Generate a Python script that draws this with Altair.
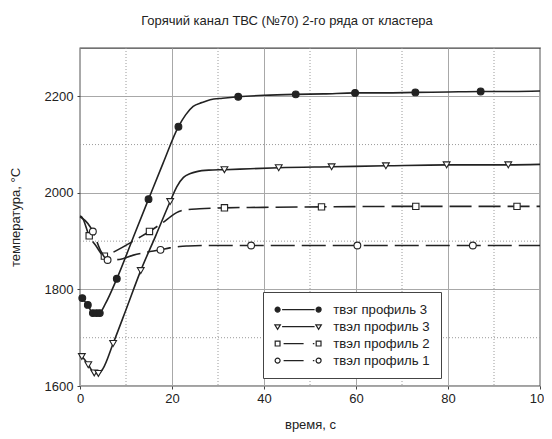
import altair as alt
import pandas as pd

FONT = "Liberation Sans"
INK = "#222222"

names = ["твэг профиль 3", "твэл профиль 3", "твэл профиль 2", "твэл профиль 1"]

# --- series A: твэг профиль 3 (filled circles, solid)
a_line_x = [0, 0.4, 1.7, 2.7, 3.6, 4.3, 5.5, 8.0, 12, 14.9, 18, 21.4, 23, 24.6, 26.5, 28.3, 31, 34.4, 40, 46.9, 53, 59.8, 66, 72.9, 80, 87.1, 94, 100]
a_line_y = [1785, 1781, 1768, 1752, 1751, 1752, 1770, 1822, 1918, 1987, 2060, 2137, 2162, 2179, 2187, 2193, 2196, 2199, 2202, 2204, 2205, 2207, 2207, 2208, 2209, 2210, 2210, 2211]
a_mark_x = [0.5, 1.7, 2.8, 3.6, 4.3, 8.0, 14.9, 21.4, 34.4, 46.9, 59.8, 72.9, 87.1]
a_mark_y = [1782, 1768, 1751, 1751, 1751, 1822, 1987, 2137, 2199, 2204, 2207, 2208, 2210]

# --- series B: твэл профиль 3 (open triangles, solid)
b_line_x = [0, 0.4, 1.8, 3.1, 4.0, 5.0, 7.2, 10, 13.2, 16.5, 19.6, 21, 22.5, 24, 25.4, 28, 31.4, 37, 43.2, 54.7, 66.5, 79.7, 93.1, 100]
b_line_y = [1663, 1661, 1644, 1627, 1626, 1636, 1688, 1758, 1839, 1912, 1982, 2012, 2032, 2040, 2044, 2047, 2048, 2050, 2052, 2054, 2056, 2058, 2058, 2059]
b_mark_x = [0.4, 1.8, 3.1, 4.0, 7.2, 13.2, 19.6, 31.4, 43.2, 54.7, 66.5, 79.7, 93.1]
b_mark_y = [1661, 1644, 1627, 1626, 1688, 1839, 1982, 2048, 2052, 2054, 2056, 2058, 2058]

# --- series C: твэл профиль 2 (open squares, dashed)
c_line_x = [0, 0.4, 2.0, 3.5, 5.3, 7, 9, 11, 13, 15.1, 17, 18.8, 20, 21, 22, 23.2, 26, 31.4, 40, 52.5, 73, 95, 100]
c_line_y = [1952, 1950, 1911, 1890, 1869, 1876, 1886, 1897, 1908, 1920, 1932, 1944, 1953, 1959, 1963, 1965, 1967, 1969, 1970, 1971, 1972, 1972, 1972]
c_mark_x = [2.0, 5.3, 15.1, 31.4, 52.5, 73, 95]
c_mark_y = [1911, 1869, 1920, 1969, 1971, 1972, 1972]

# --- series D: твэл профиль 1 (open circles, dashed)
d_line_x = [0, 0.4, 2.8, 4.5, 6.0, 8.5, 11.6, 14.5, 17.5, 19.5, 21.7, 23.5, 28, 37.2, 50, 60.3, 85.4, 100]
d_line_y = [1950, 1948, 1920, 1880, 1861, 1862, 1871, 1877, 1882, 1886, 1889, 1890, 1891, 1891, 1891, 1891, 1891, 1891]
d_mark_x = [2.8, 6.0, 17.5, 37.2, 60.3, 85.4]
d_mark_y = [1920, 1861, 1882, 1891, 1891, 1891]

x_ticks = [0, 20, 40, 60, 80, 100]
y_ticks = [1600, 1800, 2000, 2200]
x_minor = [10, 30, 50, 70, 90]
y_minor = [1700, 1900, 2100]

xs = alt.Scale(domain=[0, 100], nice=False, zero=False)
ys = alt.Scale(domain=[1600, 2300], nice=False, zero=False)

X = alt.X("x:Q", scale=xs, axis=alt.Axis(values=x_ticks, title="время, с", format="d",
                                          titlePadding=13, labelPadding=3, labelFlush=False))
Y = alt.Y("y:Q", scale=ys, axis=alt.Axis(values=y_ticks, title="температура, °C", format="d",
                                          titlePadding=22, labelPadding=4, labelFlush=False))

layers = []
# minor dotted grid
layers.append(alt.Chart(pd.DataFrame({"x": x_minor})).mark_rule(color="#9a9a9a", strokeDash=[1, 2], strokeWidth=1)
              .encode(x=alt.X("x:Q", scale=xs)))
layers.append(alt.Chart(pd.DataFrame({"y": y_minor})).mark_rule(color="#9a9a9a", strokeDash=[1, 2], strokeWidth=1)
              .encode(y=alt.Y("y:Q", scale=ys)))

series = [
    (a_line_x, a_line_y, a_mark_x, a_mark_y, [], "circle", INK),
    (b_line_x, b_line_y, b_mark_x, b_mark_y, [], "triangle-down", "white"),
    (c_line_x, c_line_y, c_mark_x, c_mark_y, [22, 7], "square", "white"),
    (d_line_x, d_line_y, d_mark_x, d_mark_y, [24, 7], "circle", "white"),
]

first = True
for lx, ly, mx, my, dash, shape, fill in series:
    line_kw = dict(color=INK, strokeWidth=1.6, interpolate="monotone")
    if dash:
        line_kw["strokeDash"] = dash
    ln = alt.Chart(pd.DataFrame({"x": lx, "y": ly})).mark_line(**line_kw)
    if first:
        ln = ln.encode(x=X, y=Y)
        first = False
    else:
        ln = ln.encode(x=alt.X("x:Q", scale=xs), y=alt.Y("y:Q", scale=ys))
    layers.append(ln)
    pt = alt.Chart(pd.DataFrame({"x": mx, "y": my})).mark_point(
        shape=shape, size=46 if shape != "square" else 40, filled=True, fill=fill, stroke=INK,
        strokeWidth=1.1, opacity=1).encode(x=alt.X("x:Q", scale=xs), y=alt.Y("y:Q", scale=ys))
    layers.append(pt)

# legend glyphs (marker - line - marker); path units are scaled 5 px per unit by the legend.
L = -0.6
RT = 7.6
R = 0.5


def circ(cx):
    return (f"M{cx + R:.3f},0A{R},{R},0,1,1,{cx - R:.3f},0A{R},{R},0,1,1,{cx + R:.3f},0Z")


def tri(cx):
    return f"M{cx - 0.55:.3f},-0.35L{cx + 0.55:.3f},-0.35L{cx:.3f},0.55Z"


def sq(cx):
    return f"M{cx - 0.48:.3f},-0.48L{cx + 0.48:.3f},-0.48L{cx + 0.48:.3f},0.48L{cx - 0.48:.3f},0.48Z"


solid = f"M{L + 0.9:.2f},0L{RT - 0.8:.2f},0"
dashdot = f"M{L + 1.2:.2f},0L{L + 5.2:.2f},0M{RT - 1.15:.2f},0L{RT - 0.85:.2f},0"
paths = [
    circ(L) + circ(RT) + solid,
    tri(L) + tri(RT) + solid,
    sq(L) + sq(RT) + dashdot,
    circ(L) + circ(RT) + dashdot,
]
fills = [INK, "white", "white", "white"]
strokes = [INK] * 4

leg = alt.Legend(title=None, orient="none", legendX=183, legendY=244,
                 labelFont=FONT, labelFontSize=13.2, labelColor=INK, labelOffset=46,
                 padding=11, rowPadding=3, strokeColor="#444", fillColor="white",
                 symbolStrokeWidth=1.2, symbolOpacity=1)
legend_layer = alt.Chart(pd.DataFrame({"series": names, "x": [0] * 4, "y": [1600] * 4})).transform_filter(
    "false").mark_point(opacity=1, strokeWidth=1.2).encode(
    x=alt.X("x:Q", scale=xs), y=alt.Y("y:Q", scale=ys),
    shape=alt.Shape("series:N", scale=alt.Scale(domain=names, range=paths), legend=leg),
    fill=alt.Fill("series:N", scale=alt.Scale(domain=names, range=fills), legend=leg),
    stroke=alt.Stroke("series:N", scale=alt.Scale(domain=names, range=strokes), legend=leg),
)
layers.append(legend_layer)

chart = alt.layer(*layers).properties(
    width=460, height=338,
    title=alt.TitleParams("Горячий канал ТВС (№70) 2-го ряда от кластера", font=FONT, fontSize=13,
                          fontWeight="normal", color=INK, anchor="middle", frame="group", dx=-23, offset=20),
    padding={"left": 72, "top": 40, "right": 4, "bottom": 50},
    autosize="none",
).configure_view(stroke="#444", strokeWidth=1.3).configure_axis(
    labelFont=FONT, titleFont=FONT, labelFontSize=13, titleFontSize=13, labelColor=INK, titleColor=INK,
    titleFontWeight="normal", domain=False, tickColor="#444", tickSize=3, gridColor="#a8a8a8", gridWidth=1,
)

chart.save("out.html", embed_options={"renderer": "svg", "actions": False})
